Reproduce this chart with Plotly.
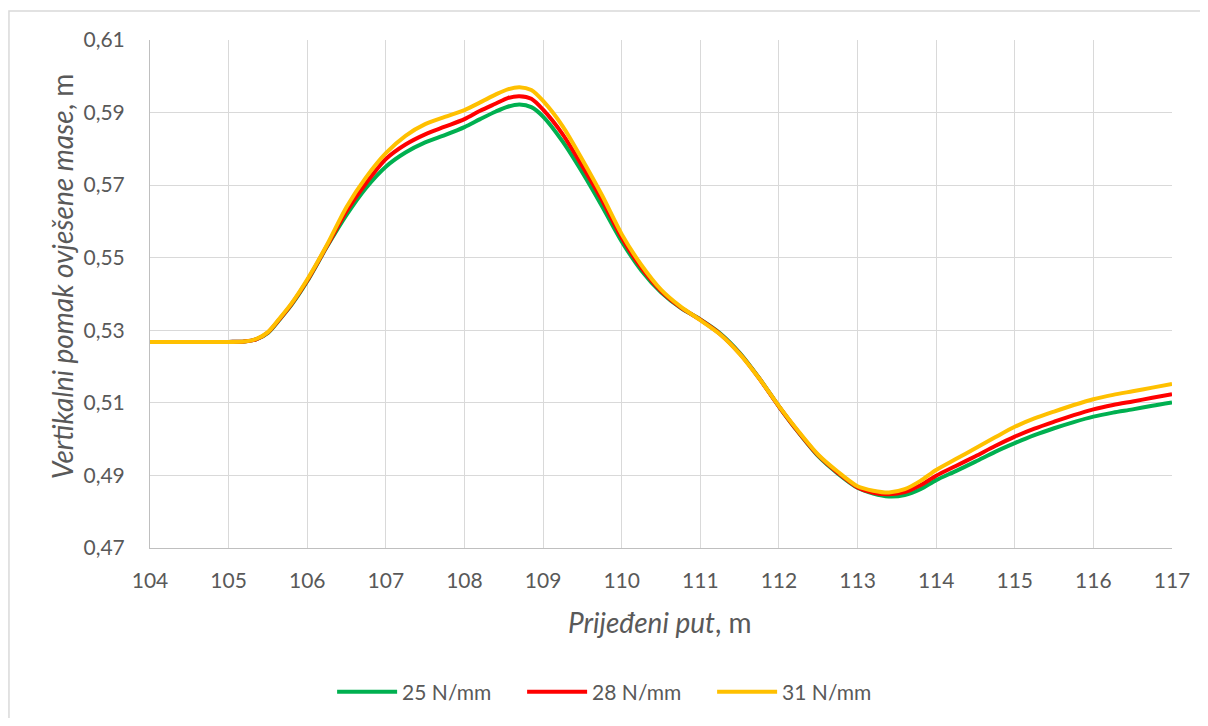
import plotly.graph_objects as go

x_put = [104, 104.5, 105, 105.2, 105.35, 105.5, 105.65, 105.8, 106, 106.25, 106.5, 106.75,
         107, 107.25, 107.5, 107.75, 108, 108.2, 108.4, 108.55, 108.7, 108.85, 109, 109.25,
         109.5, 109.75, 110, 110.25, 110.5, 110.75, 111, 111.25, 111.5, 111.75, 112, 112.25,
         112.5, 112.75, 113, 113.2, 113.4, 113.6, 113.8, 114, 114.25, 114.5, 114.75, 115,
         115.25, 115.5, 115.75, 116, 116.25, 116.5, 116.75, 117]

y_25 = [0.5268, 0.5268, 0.5268, 0.5269, 0.5275, 0.5293, 0.5330, 0.5370, 0.5435, 0.5530, 0.5618, 0.5693,
        0.5751, 0.5790, 0.5818, 0.5838, 0.5860, 0.5882, 0.5903, 0.5916, 0.5922, 0.5915, 0.5889, 0.5820,
        0.5735, 0.5642, 0.5545, 0.5465, 0.5405, 0.5362, 0.5330, 0.5292, 0.5238, 0.5168, 0.5090, 0.5018,
        0.4953, 0.4905, 0.4866, 0.4850, 0.4842, 0.4846, 0.4862, 0.4887, 0.4912, 0.4938, 0.4965, 0.4989,
        0.5011, 0.5030, 0.5047, 0.5062, 0.5073, 0.5082, 0.5092, 0.5101]

y_28 = [0.5268, 0.5268, 0.5268, 0.5269, 0.5275, 0.5294, 0.5331, 0.5372, 0.5437, 0.5532, 0.5628, 0.5706,
        0.5772, 0.5812, 0.5840, 0.5861, 0.5882, 0.5905, 0.5925, 0.5940, 0.5945, 0.5938, 0.5908, 0.5840,
        0.5752, 0.5658, 0.5555, 0.5472, 0.5408, 0.5363, 0.5329, 0.5290, 0.5236, 0.5167, 0.5090, 0.5019,
        0.4955, 0.4907, 0.4867, 0.4852, 0.4848, 0.4854, 0.4873, 0.4899, 0.4926, 0.4953, 0.4981, 0.5007,
        0.5029, 0.5048, 0.5066, 0.5082, 0.5094, 0.5104, 0.5114, 0.5124]

y_31 = [0.5268, 0.5268, 0.5268, 0.5269, 0.5276, 0.5295, 0.5333, 0.5374, 0.5440, 0.5535, 0.5640, 0.5722,
        0.5788, 0.5836, 0.5868, 0.5888, 0.5907, 0.5928, 0.5950, 0.5964, 0.5970, 0.5962, 0.5932, 0.5862,
        0.5770, 0.5672, 0.5565, 0.5480, 0.5412, 0.5365, 0.5328, 0.5289, 0.5235, 0.5167, 0.5091, 0.5021,
        0.4957, 0.4910, 0.4870, 0.4858, 0.4853, 0.4862, 0.4885, 0.4915, 0.4945, 0.4975, 0.5005, 0.5034,
        0.5057, 0.5076, 0.5094, 0.5110, 0.5122, 0.5132, 0.5142, 0.5152]

series_names = ["25 N/mm", "28 N/mm", "31 N/mm"]
series_colors = ["#00B050", "#FF0000", "#FFC000"]
series_values = [y_25, y_28, y_31]

FONT = "Lato"
TXT = "#595959"

fig = go.Figure()
for name, col, vals in zip(series_names, series_colors, series_values):
    fig.add_trace(go.Scatter(x=x_put, y=vals, mode="lines", name=name,
                             line=dict(color=col, width=4, shape="spline", smoothing=0.8)))

fig.update_layout(
    width=1192, height=710,
    margin=dict(l=142, r=28, t=32, b=170, autoexpand=False),
    paper_bgcolor="white", plot_bgcolor="white",
    separators=", ",
    font=dict(family=FONT, size=21, color=TXT),
    showlegend=True,
    legend=dict(orientation="h", xref="container", yref="container",
                x=0.511, xanchor="center", y=0.0366, yanchor="middle",
                font=dict(family=FONT, size=21, color=TXT), itemwidth=60,
                entrywidth=115, entrywidthmode="pixels",
                traceorder="normal"),
    xaxis=dict(range=[104, 117], dtick=1, tick0=104, showgrid=True, gridcolor="#D9D9D9",
               gridwidth=1, zeroline=False, showline=True, linecolor="#BFBFBF", linewidth=1,
               ticks="", ticklabelstandoff=14, tickfont=dict(size=21, color=TXT)),
    yaxis=dict(range=[0.47, 0.61], dtick=0.02, tick0=0.47, showgrid=True, gridcolor="#D9D9D9",
               gridwidth=1, zeroline=False, showline=True, linecolor="#BFBFBF", linewidth=1,
               ticks="", tickformat=".2f", ticklabelstandoff=20, tickfont=dict(size=21, color=TXT)),
    annotations=[
        dict(text="<i>Prijeđeni put</i>, m", xref="paper", yref="paper", x=0.4986, y=-0.146,
             xanchor="center", yanchor="middle", showarrow=False,
             font=dict(family=FONT, size=28, color=TXT)),
        dict(text="<i>Vertikalni pomak ovješene mase</i>, m", xref="paper", yref="paper",
             x=-0.086, y=0.535, xanchor="center", yanchor="middle", showarrow=False, textangle=-90,
             font=dict(family=FONT, size=28, color=TXT)),
    ],
    shapes=[
        dict(type="rect", xref="paper", yref="paper", x0=-0.138, x1=1.2, y0=-0.6, y1=1.057,
             line=dict(color="#D9D9D9", width=1.5), fillcolor="rgba(0,0,0,0)", layer="below"),
    ],
)

fig.write_html("out.html")
